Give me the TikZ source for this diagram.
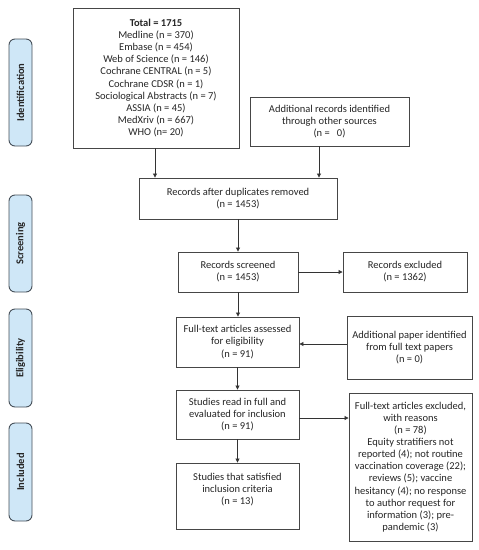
\documentclass[tikz,border=0pt]{standalone}
\usepackage{fontspec}
\setmainfont{Carlito}
\usetikzlibrary{arrows.meta}
\definecolor{boxline}{RGB}{70,70,70}
\definecolor{sidefill}{RGB}{207,231,247}
\definecolor{sideline}{RGB}{70,80,90}
\tikzset{
  box/.style={draw=boxline, line width=0.9pt, fill=white, align=center, inner sep=0pt,
    font=\fontsize{10.5}{12.1}\selectfont, text=black!85},
  side/.style={draw=sideline, line width=0.9pt, fill=sidefill, rounded corners=6pt,
    minimum width=23pt, inner sep=0pt},
  sidetext/.style={rotate=90, font=\fontsize{10.5}{12}\selectfont\bfseries, text=black!85},
  arr/.style={draw=black!80, line width=0.8pt, -{Triangle[length=4pt,width=4pt]}}
}
\begin{document}
\begin{tikzpicture}[x=1pt,y=-1pt]
\useasboundingbox[fill=white] (0,0) rectangle (479,550);
% side labels
\node[side, minimum height=107pt] (sident) at (20.5,92.5) {};
\node[sidetext] (tident) at (sident.center) {Identification};
\node[side, minimum height=97pt] (sscreen) at (20.5,243.5) {};
\node[sidetext] (tscreen) at (sscreen.center) {Screening};
\node[side, minimum height=98pt] (selig) at (20.5,358) {};
\node[sidetext] (telig) at (selig.center) {Eligibility};
\node[side, minimum height=98pt] (sincl) at (20.5,472) {};
\node[sidetext] (tincl) at (sincl.center) {Included};
% boxes
\node[box, minimum width=166pt, minimum height=140pt] (total) at (156,78) {\textbf{Total = 1715}\\Medline (n = 370)\\Embase (n = 454)\\Web of Science (n = 146)\\Cochrane CENTRAL (n = 5)\\Cochrane CDSR (n = 1)\\Sociological Abstracts (n = 7)\\ASSIA (n = 45)\\MedXriv (n = 667)\\WHO (n= 20)};
\node[box, minimum width=159pt, minimum height=49pt] (addrec) at (329.5,121.5) {Additional records identified\\through other sources\\(n = \ \ 0)};
\node[box, minimum width=198pt, minimum height=41pt] (dup) at (238,198.5) {Records after duplicates removed\\(n = 1453)};
\node[box, minimum width=120pt, minimum height=40pt] (screened) at (238,272) {Records screened\\(n = 1453)};
\node[box, minimum width=124pt, minimum height=40pt] (excluded) at (405,272) {Records excluded\\(n = 1362)};
\node[box, minimum width=123pt, minimum height=50pt] (assessed) at (237.5,342) {Full-text articles assessed\\for eligibility\\(n = 91)};
\node[box, minimum width=125pt, minimum height=63pt] (addpaper) at (409.5,347.5) {Additional paper identified\\from full text papers\\(n = 0)};
\node[box, minimum width=123pt, minimum height=49pt] (studies) at (237.5,414.5) {Studies read in full and\\evaluated for inclusion\\(n = 91)};
\node[box, minimum width=123pt, minimum height=66pt] (satisfied) at (237.5,496) {Studies that satisfied\\inclusion criteria\\(n = 13)\\[2pt]\mbox{}};
\node[box, minimum width=123pt, minimum height=148pt] (ftexcl) at (410.5,467) {Full-text articles excluded,\\with reasons\\(n = 78)\\Equity stratifiers not\\reported (4); not routine\\vaccination coverage (22);\\reviews (5); vaccine\\hesitancy (4); no response\\to author request for\\information (3); pre-\\pandemic (3)};
% connectors
\draw[arr] ([xshift=-1pt]total.south) -- ([xshift=-1pt]total.south |- dup.north);
\draw[arr] ([xshift=-10.5pt]addrec.south) -- ([xshift=-10.5pt]addrec.south |- dup.north);
\draw[arr] (dup.south) -- (screened.north);
\draw[arr] (screened.east) -- (excluded.west);
\draw[arr] (screened.south) -- (screened.south |- assessed.north);
\draw[arr] ([yshift=3.5pt]addpaper.west) -- ([yshift=3.5pt]addpaper.west -| assessed.east);
\draw[arr] (assessed.south) -- (studies.north);
\draw[arr] ([yshift=-3.5pt]studies.east) -- ([yshift=-3.5pt]studies.east -| ftexcl.west);
\draw[arr] (studies.south) -- (satisfied.north);
\end{tikzpicture}
\end{document}
